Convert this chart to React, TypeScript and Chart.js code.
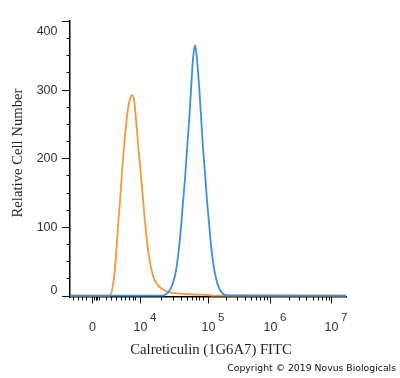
import React, { useEffect, useRef } from "react";
import { Chart, registerables } from "chart.js";

Chart.register(...registerables);

// Channel units (0..1024) on the display axis
const isotypeX = [0, 148, 156, 163, 171, 178, 186, 193, 200, 208, 215, 223, 231, 238, 243, 249, 254, 260, 265, 271, 276, 282, 289, 297, 306, 315, 327, 341, 364, 390, 445, 501, 538, 1024];
const isotypeY = [0, 0, 8, 25, 60, 100, 140, 180, 215, 248, 272, 287, 292, 285, 265, 238, 214, 190, 166, 141, 116, 93, 68, 48, 32, 22, 15, 10, 5.5, 3.5, 2, 1, 0, 0];

const calretX = [0, 345, 356, 367, 378, 390, 401, 412, 419, 427, 434, 442, 449, 456, 464, 471, 479, 486, 493, 501, 508, 516, 523, 531, 542, 553, 564, 579, 1024];
const calretY = [0, 0, 2, 6, 14, 30, 58, 100, 135, 172, 212, 255, 300, 343, 365, 345, 305, 262, 218, 178, 140, 105, 74, 48, 25, 11, 4, 0.5, 0];

const xMajorTicks = [80, 258, 512, 742, 970];
const xMajorBase = ["0", "10", "10", "10", "10"];
const xMajorExp = ["", "4", "5", "6", "7"];
const xMinorTicks = [
  11, 28, 45, 59, 89, 95, 98, 102, 106, 134, 152, 171, 189, 204, 219, 232, 243,
  338, 382, 412, 434, 453, 467, 480, 493,
  579, 620, 649, 672, 690, 705, 720, 731,
  811, 850, 877, 902, 920, 935, 948, 960,
];

const yMajorTicks = [0, 100, 200, 300, 400];
const yMinorTicks = [25, 50, 75, 125, 150, 175, 225, 250, 275, 325, 350, 375];

const xTitle = "Calreticulin (1G6A7) FITC";
const yTitle = "Relative Cell Number";
const copyright = "Copyright \u00A9 2019 Novus Biologicals";

const toPoints = (xs: number[], ys: number[]) => xs.map((x, i) => ({ x, y: ys[i] }));

const axisPlugin = {
  id: "flowAxes",
  afterDraw(chart: any) {
    const ctx = chart.ctx as CanvasRenderingContext2D;
    const xs = chart.scales.x;
    const ys = chart.scales.y;
    const area = chart.chartArea;
    ctx.save();
    ctx.strokeStyle = "#111";
    ctx.lineWidth = 1;
    // y ticks
    yMinorTicks.forEach((v) => {
      const py = Math.round(ys.getPixelForValue(v)) + 0.5;
      ctx.beginPath();
      ctx.moveTo(area.left - 3.5, py);
      ctx.lineTo(area.left, py);
      ctx.stroke();
    });
    ctx.font = "12.5px 'Liberation Sans', Arial, sans-serif";
    ctx.fillStyle = "#333";
    ctx.textAlign = "right";
    ctx.textBaseline = "middle";
    yMajorTicks.forEach((v) => {
      const py = Math.round(ys.getPixelForValue(v)) + 0.5;
      ctx.beginPath();
      ctx.moveTo(area.left - 8, py);
      ctx.lineTo(area.left, py);
      ctx.stroke();
      const ly = Math.min(Math.max(py, area.top + 10.5), area.bottom - 6);
      ctx.fillText(String(v), area.left - 12.5, ly);
    });
    // x ticks
    xMinorTicks.forEach((v) => {
      const px = Math.round(xs.getPixelForValue(v)) + 0.5;
      ctx.beginPath();
      ctx.moveTo(px, area.bottom);
      ctx.lineTo(px, area.bottom + 3.5);
      ctx.stroke();
    });
    xMajorTicks.forEach((v, i) => {
      const px = Math.round(xs.getPixelForValue(v)) + 0.5;
      ctx.beginPath();
      ctx.moveTo(px, area.bottom);
      ctx.lineTo(px, area.bottom + 6.5);
      ctx.stroke();
      ctx.font = "12.5px 'Liberation Sans', Arial, sans-serif";
      ctx.textAlign = "center";
      ctx.textBaseline = "alphabetic";
      ctx.fillText(xMajorBase[i], px, area.bottom + 34);
      if (xMajorExp[i]) {
        ctx.textAlign = "left";
        ctx.font = "11.5px 'Liberation Sans', Arial, sans-serif";
        ctx.fillText(xMajorExp[i], px + 9.5, area.bottom + 24);
      }
    });
    // titles
    ctx.fillStyle = "#222";
    ctx.font = "14.7px 'Liberation Serif', 'Times New Roman', serif";
    ctx.textAlign = "center";
    ctx.textBaseline = "alphabetic";
    ctx.fillText(xTitle, 211, area.bottom + 57);
    ctx.save();
    ctx.translate(22, 153);
    ctx.rotate(-Math.PI / 2);
    ctx.fillText(yTitle, 0, 0);
    ctx.restore();
    ctx.font = "9.3px 'DejaVu Sans', Verdana, sans-serif";
    ctx.fillStyle = "#111";
    ctx.textAlign = "right";
    ctx.fillText(copyright, 396, 371);
    ctx.restore();
  },
};

export default function App() {
  const canvasRef = useRef<HTMLCanvasElement | null>(null);
  useEffect(() => {
    document.body.style.margin = "0";
    const canvas = canvasRef.current;
    if (!canvas) return;
    const chart = new Chart(canvas, {
      type: "line",
      data: {
        datasets: [
          {
            data: toPoints(isotypeX, isotypeY),
            borderColor: "#F49A3B",
            borderWidth: 1.8,
            pointRadius: 0,
            cubicInterpolationMode: "monotone",
            fill: false,
            order: 2,
          },
          {
            data: toPoints(calretX, calretY),
            borderColor: "#3C8FDB",
            borderWidth: 1.8,
            pointRadius: 0,
            cubicInterpolationMode: "monotone",
            fill: false,
            order: 1,
          },
        ],
      },
      options: {
        animation: false,
        responsive: false,
        devicePixelRatio: 1,
        layout: { padding: { top: 21, right: 54, left: 0, bottom: 0 } },
        plugins: { legend: { display: false }, tooltip: { enabled: false } },
        scales: {
          x: {
            type: "linear",
            min: 0,
            max: 1024,
            ticks: { display: false },
            grid: { display: false },
            border: { display: true, color: "#000", width: 1.5 },
            afterFit: (s: any) => {
              s.height = 81;
            },
          },
          y: {
            type: "linear",
            min: -2,
            max: 400,
            ticks: { display: false },
            grid: { display: false },
            border: { display: true, color: "#000", width: 1.5 },
            afterFit: (s: any) => {
              s.width = 70;
            },
          },
        },
      } as any,
      plugins: [axisPlugin],
    });
    return () => chart.destroy();
  }, []);
  return (
    <div style={{ position: "absolute", left: 0, top: 0, width: 400, height: 378, background: "#fff" }}>
      <canvas ref={canvasRef} width={400} height={378} style={{ display: "block" }} />
    </div>
  );
}
